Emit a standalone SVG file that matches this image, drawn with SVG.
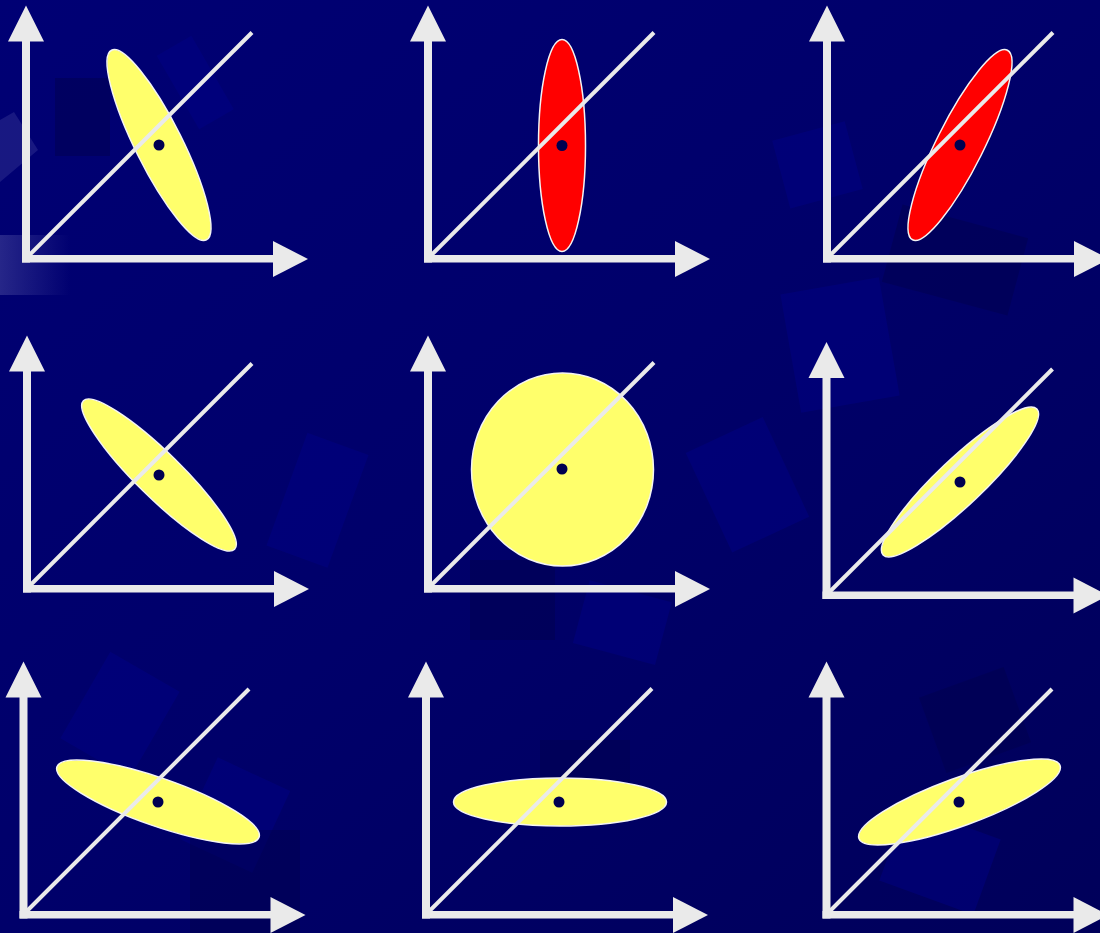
<svg xmlns="http://www.w3.org/2000/svg" width="1100" height="933" viewBox="0 0 1100 933">
<defs>
<linearGradient id="bg" x1="0" y1="0" x2="1" y2="1">
<stop offset="0" stop-color="#000074"/>
<stop offset="0.5" stop-color="#00006A"/>
<stop offset="1" stop-color="#00005A"/>
</linearGradient>
<linearGradient id="glow" x1="0" y1="0" x2="1" y2="0">
<stop offset="0" stop-color="#8080c0" stop-opacity="0.3"/>
<stop offset="1" stop-color="#8080c0" stop-opacity="0"/>
</linearGradient>
<g id="axes">
<rect x="-4" y="-218" width="8" height="222" class="ax"/>
<polygon points="-18,-217 18,-217 0,-253" class="ax"/>
<rect x="-4" y="-3.5" width="252" height="7.5" class="ax"/>
<polygon points="247,-17.5 247,18.5 282,0.5" class="ax"/>
</g>
</defs>
<style>
.ax{fill:#EAEAEA;}
.diag{stroke:#EAEAEA;stroke-width:4;fill:none;}
.ye{fill:#FFFF6B;stroke:#F4F4F4;stroke-width:1.5;}
.re{fill:#FF0000;stroke:#F4F4F4;stroke-width:1.5;}
.dot{fill:#000050;}
.lt{fill:#000088;opacity:0.45;}
.dk{fill:#00004C;opacity:0.45;}
</style>
<rect width="1100" height="933" fill="url(#bg)"/>
<g id="background">
<rect x="55" y="78" width="55" height="78" class="dk"/>
<polygon points="0,120 14,112 38,150 0,182" fill="#6060b0" opacity="0.25"/>
<rect x="0" y="235" width="70" height="60" fill="url(#glow)"/>
<rect x="175" y="40" width="40" height="85" class="lt" transform="rotate(-30 195 82)"/>
<rect x="780" y="130" width="75" height="70" class="lt" transform="rotate(-15 817 165)"/>
<rect x="790" y="285" width="100" height="120" class="lt" transform="rotate(-10 840 345)"/>
<rect x="890" y="220" width="130" height="80" class="dk" transform="rotate(15 955 260)"/>
<rect x="705" y="430" width="85" height="110" class="lt" transform="rotate(-25 747 485)"/>
<rect x="285" y="440" width="65" height="120" class="lt" transform="rotate(20 317 500)"/>
<rect x="470" y="560" width="85" height="80" class="dk"/>
<rect x="580" y="590" width="85" height="65" class="lt" transform="rotate(15 622 622)"/>
<rect x="80" y="665" width="80" height="100" class="lt" transform="rotate(30 120 715)"/>
<rect x="195" y="770" width="80" height="90" class="lt" transform="rotate(25 235 815)"/>
<rect x="190" y="830" width="110" height="103" class="dk"/>
<rect x="540" y="740" width="90" height="80" class="dk"/>
<rect x="890" y="820" width="100" height="80" class="lt" transform="rotate(20 940 860)"/>
<rect x="930" y="680" width="90" height="80" class="dk" transform="rotate(-20 975 720)"/>
</g>
<g id="panel1">
<use href="#axes" x="26" y="258.5"/>
<ellipse cx="159" cy="145" rx="106" ry="23.5" class="ye" transform="rotate(63.4 159 145)"/>
<line x1="28" y1="256.5" x2="252" y2="32.5" class="diag"/>
<circle cx="159" cy="145" r="5.5" class="dot"/>
</g>
<g id="panel2">
<use href="#axes" x="428" y="258.5"/>
<ellipse cx="562" cy="145.5" rx="23.5" ry="106" class="re"/>
<line x1="430" y1="256.5" x2="654" y2="32.5" class="diag"/>
<circle cx="562" cy="145.5" r="5.5" class="dot"/>
</g>
<g id="panel3">
<use href="#axes" x="827" y="258.5"/>
<ellipse cx="960" cy="145" rx="106" ry="23.5" class="re" transform="rotate(-63.4 960 145)"/>
<line x1="829" y1="256.5" x2="1053" y2="32.5" class="diag"/>
<circle cx="960" cy="145" r="5.5" class="dot"/>
</g>
<g id="panel4">
<use href="#axes" x="27" y="588.5"/>
<ellipse cx="159" cy="475" rx="106" ry="22.5" class="ye" transform="rotate(44.5 159 475)"/>
<line x1="29" y1="586.5" x2="252" y2="363.5" class="diag"/>
<circle cx="159" cy="475" r="5.5" class="dot"/>
</g>
<g id="panel5">
<use href="#axes" x="428" y="588.5"/>
<ellipse cx="562.5" cy="469.5" rx="91" ry="96.5" class="ye"/>
<line x1="430" y1="586.5" x2="654" y2="362.5" class="diag"/>
<circle cx="562" cy="469" r="5.5" class="dot"/>
</g>
<g id="panel6">
<use href="#axes" x="826.5" y="595"/>
<ellipse cx="960" cy="482" rx="106" ry="23" class="ye" transform="rotate(-43.5 960 482)"/>
<line x1="828.5" y1="593" x2="1052.5" y2="369" class="diag"/>
<circle cx="960" cy="482" r="5.5" class="dot"/>
</g>
<g id="panel7">
<use href="#axes" x="23.5" y="914.5"/>
<ellipse cx="158" cy="802" rx="107" ry="24" class="ye" transform="rotate(19.2 158 802)"/>
<line x1="25.5" y1="912.5" x2="249" y2="689" class="diag"/>
<circle cx="158" cy="802" r="5.5" class="dot"/>
</g>
<g id="panel8">
<use href="#axes" x="426" y="914.5"/>
<ellipse cx="560" cy="802" rx="106.5" ry="24" class="ye"/>
<line x1="428" y1="912.5" x2="652" y2="688.5" class="diag"/>
<circle cx="559" cy="802" r="5.5" class="dot"/>
</g>
<g id="panel9">
<use href="#axes" x="826.5" y="914.5"/>
<ellipse cx="959.5" cy="802" rx="107" ry="24" class="ye" transform="rotate(-20 959.5 802)"/>
<line x1="828.5" y1="912.5" x2="1052" y2="689" class="diag"/>
<circle cx="959" cy="802" r="5.5" class="dot"/>
</g>
</svg>
